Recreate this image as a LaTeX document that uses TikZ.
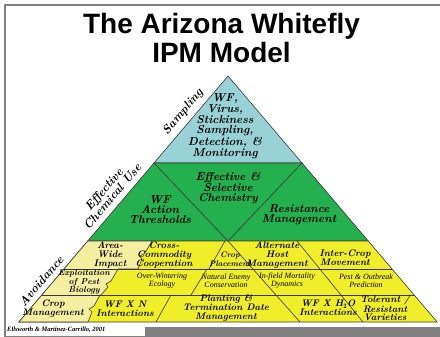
\documentclass[tikz,border=0pt]{standalone}
\usepackage{fontspec}
\newfontfamily\titlefont{Liberation Sans}
\newfontfamily\notefont{Liberation Serif}
\definecolor{wfcyan}{RGB}{152,210,214}
\definecolor{wfgreen}{RGB}{36,176,78}
\definecolor{wfyellow}{RGB}{240,238,40}
\definecolor{wfpale}{RGB}{244,238,160}
\definecolor{wfline}{RGB}{55,55,55}
\definecolor{framegray}{RGB}{128,128,128}
\begin{document}
\begin{tikzpicture}[x=1pt,y=-1pt,
  divline/.style={draw=wfline,line width=0.6pt},
  toptxt/.style={font=\fontsize{11.5}{10}\selectfont\bfseries\itshape,align=center,inner sep=0pt},
  celltxt/.style={font=\fontsize{9.5}{8.8}\selectfont\bfseries\itshape,align=center,inner sep=0pt},
  rowtxt/.style={font=\notefont\fontsize{8}{8}\selectfont\itshape,align=center,inner sep=0pt},
  sidetxt/.style={font=\fontsize{12}{11}\selectfont\bfseries\itshape,align=center,inner sep=0pt,rotate=49.6}]
    \useasboundingbox (0,0) rectangle (440,337);
    % frame
    \fill[white] (0,0) rectangle (440,337);
    \draw[framegray,line width=2pt] (440,5) -- (5,5) -- (5,337);
    \fill[framegray] (145,327) rectangle (440,337);
    \draw[framegray,line width=1pt] (5,336) -- (145,336);

    % title
    \node[font=\titlefont\bfseries\fontsize{28}{29}\selectfont,align=center,anchor=base] (title) at (221.5,63) {The Arizona Whitefly\\IPM Model};

    % pyramid tiers
    \coordinate (apex) at (228,76);
    \filldraw[fill=wfcyan,divline] (apex) -- (302,163) -- (154,163) -- cycle;
    \filldraw[fill=wfgreen,divline] (154,163) -- (302,163) -- (368.25,241) -- (87.75,241) -- cycle;
    \draw[divline] (154,163) -- (228,241) -- (302,163);
    \filldraw[fill=wfyellow,divline] (87.75,241) -- (368.25,241) -- (437.1,322) -- (18.9,322) -- cycle;

    % pale left cells with broken edges
    \filldraw[fill=wfpale,divline] (18.9,322) -- (87.75,241) -- (152,241) -- (145,253) -- (140,256) -- (142,259) -- (138,269)
      -- (118,269) -- (111,281) -- (106,284) -- (108,287) -- (101,295) -- (100,295)
      -- (94,306) -- (89,309) -- (92,312) -- (88,322) -- cycle;

    % rows
    \draw[divline] (63.95,269) -- (392.05,269);
    \draw[divline] (41.85,295) -- (414.15,295);
    % dividers
    \draw[divline] (225,241) -- (209,269);
    \draw[divline] (207,269) -- (191,295);
    \draw[divline] (171,295) -- (156,322);
    \draw[divline] (228,241) -- (300,322);
    \draw[divline] (297,241) -- (363,322);

    % top and middle texts
    \node[toptxt] (samp) at (225,126) {WF,\\Virus,\\Stickiness\\Sampling,\\Detection, \&\\Monitoring};
    \node[toptxt] (thresh) at (160,210) {WF\\Action\\Thresholds};
    \node[toptxt] (chem) at (228,188) {Effective \&\\Selective\\Chemistry};
    \node[toptxt] (resist) at (299,215) {Resistance\\Management};

    % first row
    \node[celltxt] (areawide) at (110,255) {Area-\\Wide\\Impact};
    \node[celltxt] (crosscomm) at (164,255) {Cross-\\Commodity\\Cooperation};
    \node[celltxt,font=\fontsize{8}{9}\selectfont\bfseries\itshape] (cropplace) at (230,259) {Crop\\Placement};
    \node[celltxt] (althost) at (277,255) {Alternate\\Host\\Management};
    \node[celltxt] (intercrop) at (345,258) {Inter-Crop\\Movement};
    % second row
    \node[celltxt,font=\fontsize{8.5}{8.4}\selectfont\bfseries\itshape] (exploit) at (84,282) {Exploitation\\of Pest\\Biology};
    \node[rowtxt] (overwinter) at (162,281) {Over-Wintering\\Ecology};
    \node[rowtxt] (natenemy) at (226,281) {Natural Enemy\\Conservation};
    \node[rowtxt] (infield) at (287,281) {In-field Mortality\\Dynamics};
    \node[rowtxt] (pestout) at (366,281) {Pest \& Outbreak\\Prediction};
    % third row
    \node[celltxt] (cropmgmt) at (53,309) {Crop\\Management};
    \node[celltxt] (wfxn) at (125,309) {WF X N\\Interactions};
    \node[celltxt] (planting) at (226,308) {Planting \&\\Termination Date\\Management};
    \node[celltxt] (wfxh2o) at (328,308) {WF X H$_{\mathbf{2}}$O\\Interactions};
    \node[celltxt] (tolerant) at (385,308) {Tolerant /\\Resistant\\Varieties};

    % side labels
    \node[sidetxt] (sampling) at (183,112) {Sampling};
    \node[sidetxt] (chemuse) at (108,193) {Effective\\Chemical Use};
    \node[sidetxt] (avoid) at (41,281) {Avoidance};

    % source
    \node[font=\notefont\bfseries\itshape\fontsize{6.5}{7}\selectfont,anchor=west,inner sep=0pt] (source) at (7,330) {Ellsworth \& Martinez-Carrillo, 2001};
\end{tikzpicture}
\end{document}
